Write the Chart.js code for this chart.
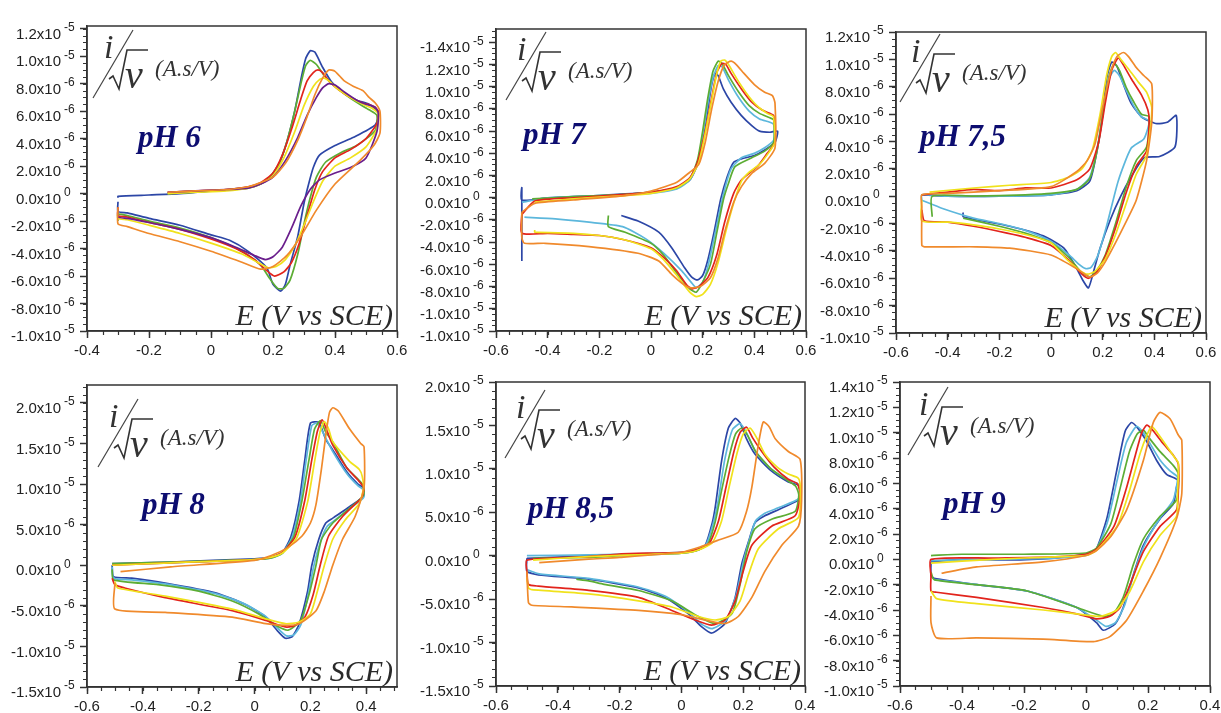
<!DOCTYPE html>
<html><head><meta charset="utf-8">
<script src="https://cdn.jsdelivr.net/npm/chart.js@4"></script>
<style>
html,body{margin:0;padding:0;background:#fff;}
body{width:1221px;height:713px;position:relative;overflow:hidden;}
canvas{position:absolute;}
</style></head><body>
<canvas id="c1"></canvas><canvas id="c2"></canvas><canvas id="c3"></canvas>
<canvas id="c4"></canvas><canvas id="c5"></canvas><canvas id="c6"></canvas>
<script>
// ---------- tick values and labels (x in V vs SCE, y in units of 1e-6 A.s/V) ----------
const xTicksA = [-0.4,-0.2,0,0.2,0.4,0.6];
const xLabelsA = ['-0.4','-0.2','0','0.2','0.4','0.6'];
const xTicksB = [-0.6,-0.4,-0.2,0,0.2,0.4,0.6];
const xLabelsB = ['-0.6','-0.4','-0.2','0','0.2','0.4','0.6'];
const xTicksC = [-0.6,-0.4,-0.2,0,0.2,0.4];
const xLabelsC = ['-0.6','-0.4','-0.2','0','0.2','0.4'];

const yTicks12 = [-10,-8,-6,-4,-2,0,2,4,6,8,10,12];
const yBase12 = ['-1.0x10','-8.0x10','-6.0x10','-4.0x10','-2.0x10','0.0x10','2.0x10','4.0x10','6.0x10','8.0x10','1.0x10','1.2x10'];
const yExp12 = ['-5','-6','-6','-6','-6','0','-6','-6','-6','-6','-5','-5'];
const yTicksPh7 = [-12,-10,-8,-6,-4,-2,0,2,4,6,8,10,12,14];
const yBasePh7 = ['-1.0x10','-1.0x10','-8.0x10','-6.0x10','-4.0x10','-2.0x10','0.0x10','2.0x10','4.0x10','6.0x10','8.0x10','1.0x10','1.2x10','-1.4x10'];
const yExpPh7 = ['-5','-5','-6','-6','-6','-6','0','-6','-6','-6','-6','-5','-5','-5'];
const yTicks20 = [-15,-10,-5,0,5,10,15,20];
const yBase20 = ['-1.5x10','-1.0x10','-5.0x10','0.0x10','5.0x10','1.0x10','1.5x10','2.0x10'];
const yExp20 = ['-5','-5','-6','0','-6','-5','-5','-5'];
const yTicks14 = [-10,-8,-6,-4,-2,0,2,4,6,8,10,12,14];
const yBase14 = ['-1.0x10','-8.0x10','-6.0x10','-4.0x10','-2.0x10','0.0x10','2.0x10','4.0x10','6.0x10','8.0x10','1.0x10','1.2x10','1.4x10'];
const yExp14 = ['-5','-6','-6','-6','-6','0','-6','-6','-6','-6','-5','-5','-5'];

const phLabels = ['pH 6','pH 7','pH 7,5','pH 8','pH 8,5','pH 9'];

// ---------- pH 6 ----------
const ph6Blue = [[-0.30,-0.3],[-0.30,-0.2],[-0.2,-0.1],[-0.1,0.0],[0.0,0.2],[0.1,0.4],[0.16,0.7],[0.19,1.2],[0.22,2.2],[0.245,3.8],[0.27,6.0],[0.29,8.3],[0.305,9.8],[0.32,10.4],[0.335,10.3],[0.36,9.2],[0.39,8.1],[0.43,7.3],[0.47,6.8],[0.51,6.5],[0.54,5.9],[0.53,5.0],[0.46,4.1],[0.40,3.5],[0.35,2.8],[0.33,1.9],[0.315,0.7],[0.30,-0.7],[0.28,-3.1],[0.255,-5.2],[0.24,-6.6],[0.225,-7.1],[0.2,-6.6],[0.18,-5.4],[0.12,-4.2],[0.06,-3.4],[0.0,-3.0],[-0.1,-2.3],[-0.2,-1.8],[-0.27,-1.4],[-0.30,-1.3],[-0.30,-0.6]];
const ph6Green = [[-0.14,0.0],[-0.05,0.1],[0.05,0.25],[0.12,0.4],[0.16,0.7],[0.19,1.2],[0.22,2.2],[0.245,3.8],[0.27,6.0],[0.29,8.0],[0.305,9.3],[0.32,9.7],[0.34,9.4],[0.365,8.6],[0.40,7.8],[0.44,7.1],[0.48,6.5],[0.51,6.1],[0.535,5.7],[0.53,4.6],[0.47,3.5],[0.42,3.0],[0.37,2.3],[0.34,1.2],[0.32,-0.3],[0.30,-2.2],[0.28,-4.4],[0.255,-6.3],[0.235,-6.9],[0.215,-6.9],[0.19,-6.2],[0.16,-5.2],[0.1,-4.2],[0.0,-3.2],[-0.1,-2.5],[-0.2,-2.0],[-0.27,-1.6],[-0.30,-1.5],[-0.30,-2.0]];
const ph6Red = [[-0.14,0.1],[-0.05,0.2],[0.05,0.3],[0.12,0.5],[0.16,0.8],[0.2,1.5],[0.23,2.8],[0.26,4.7],[0.29,6.9],[0.31,8.2],[0.33,8.8],[0.345,9.0],[0.36,8.8],[0.38,8.2],[0.41,7.6],[0.45,7.0],[0.49,6.6],[0.52,6.4],[0.54,6.0],[0.535,5.1],[0.50,4.0],[0.45,3.2],[0.40,2.6],[0.36,1.6],[0.335,0.3],[0.31,-1.6],[0.285,-3.6],[0.26,-5.0],[0.235,-5.7],[0.205,-6.0],[0.18,-5.6],[0.14,-4.8],[0.08,-4.0],[0.0,-3.3],[-0.1,-2.6],[-0.2,-2.1],[-0.27,-1.7],[-0.30,-1.6],[-0.30,-1.0]];
const ph6Yellow = [[-0.14,0.0],[-0.05,0.1],[0.05,0.2],[0.12,0.4],[0.16,0.7],[0.2,1.3],[0.235,2.6],[0.27,4.5],[0.30,6.4],[0.33,7.8],[0.35,8.3],[0.365,8.4],[0.38,8.2],[0.41,7.6],[0.45,7.0],[0.49,6.5],[0.52,6.2],[0.54,5.8],[0.535,4.7],[0.50,3.4],[0.45,2.6],[0.40,2.0],[0.36,0.9],[0.33,-0.6],[0.30,-2.3],[0.27,-3.8],[0.24,-4.8],[0.21,-5.3],[0.185,-5.4],[0.15,-5.0],[0.1,-4.4],[0.0,-3.6],[-0.1,-2.9],[-0.2,-2.3],[-0.27,-1.9],[-0.30,-1.8],[-0.30,-1.2]];
const ph6Purple = [[-0.14,0.1],[-0.05,0.2],[0.05,0.3],[0.12,0.4],[0.16,0.7],[0.2,1.2],[0.24,2.4],[0.28,4.1],[0.31,5.7],[0.34,7.0],[0.36,7.7],[0.38,8.0],[0.40,7.9],[0.43,7.4],[0.47,6.8],[0.50,6.5],[0.53,6.3],[0.54,5.8],[0.535,4.5],[0.50,2.6],[0.45,1.9],[0.40,1.5],[0.35,1.0],[0.32,0.3],[0.29,-0.9],[0.26,-2.5],[0.23,-3.9],[0.2,-4.6],[0.175,-4.8],[0.14,-4.5],[0.08,-3.9],[0.0,-3.2],[-0.1,-2.6],[-0.2,-2.1],[-0.27,-1.8],[-0.30,-1.7],[-0.30,-1.1]];
const ph6Orange = [[-0.14,0.1],[-0.05,0.2],[0.05,0.3],[0.12,0.5],[0.16,0.8],[0.2,1.2],[0.24,2.2],[0.28,3.9],[0.31,5.6],[0.335,7.2],[0.36,8.4],[0.38,9.0],[0.40,8.9],[0.43,8.2],[0.46,7.8],[0.49,7.5],[0.51,7.0],[0.53,6.6],[0.545,6.0],[0.545,4.4],[0.525,3.5],[0.48,2.4],[0.40,0.7],[0.34,-1.2],[0.29,-3.1],[0.245,-4.5],[0.2,-5.3],[0.16,-5.5],[0.1,-5.0],[0.0,-4.2],[-0.1,-3.5],[-0.2,-2.9],[-0.27,-2.4],[-0.30,-2.2],[-0.30,-1.0]];

// ---------- pH 7 ----------
const ph7Blue = [[-0.5,-5.7],[-0.5,0.9],[-0.5,-0.2],[-0.4,0.0],[-0.2,0.2],[0.0,0.5],[0.1,0.9],[0.15,1.6],[0.18,3.0],[0.2,5.2],[0.22,8.0],[0.235,10.2],[0.248,11.2],[0.26,11.0],[0.28,9.8],[0.31,8.6],[0.35,7.4],[0.39,6.5],[0.42,6.0],[0.46,5.9],[0.49,6.0],[0.48,5.0],[0.44,4.3],[0.40,3.8],[0.35,3.5],[0.32,3.2],[0.295,1.9],[0.27,-0.1],[0.245,-3.0],[0.22,-5.6],[0.2,-7.0],[0.18,-7.4],[0.16,-7.2],[0.13,-6.3],[0.08,-4.5],[0.03,-3.1],[-0.05,-2.1],[-0.115,-1.6]];
const ph7Cyan = [[-0.5,-0.4],[-0.4,0.0],[-0.2,0.2],[0.0,0.4],[0.1,0.8],[0.15,1.6],[0.18,3.2],[0.2,5.5],[0.22,8.5],[0.24,10.8],[0.26,11.9],[0.275,11.8],[0.3,10.6],[0.34,9.0],[0.38,7.8],[0.42,7.1],[0.46,6.8],[0.475,6.6],[0.475,5.2],[0.44,4.5],[0.40,4.0],[0.35,3.6],[0.31,2.6],[0.28,0.3],[0.25,-3.0],[0.22,-6.2],[0.2,-7.6],[0.175,-8.1],[0.155,-7.6],[0.12,-6.6],[0.05,-5.0],[-0.02,-3.7],[-0.11,-2.6],[-0.24,-2.2],[-0.37,-1.9],[-0.49,-1.75]];
const ph7Green = [[-0.46,-0.1],[-0.3,0.1],[-0.1,0.3],[0.0,0.5],[0.1,0.9],[0.15,1.7],[0.18,3.4],[0.2,6.0],[0.22,9.0],[0.24,11.4],[0.26,12.3],[0.275,12.1],[0.3,11.0],[0.34,9.5],[0.38,8.3],[0.42,7.6],[0.46,7.2],[0.475,7.0],[0.475,5.0],[0.44,4.2],[0.39,3.6],[0.325,2.8],[0.30,1.3],[0.28,-0.2],[0.255,-3.1],[0.23,-6.0],[0.2,-7.6],[0.175,-8.5],[0.15,-8.2],[0.1,-6.8],[0.05,-5.2],[0.0,-4.1],[-0.1,-3.1],[-0.165,-2.6],[-0.165,-1.6]];
const ph7Red = [[-0.5,-1.5],[-0.45,-0.3],[-0.3,0.0],[-0.1,0.3],[0.0,0.5],[0.1,1.0],[0.15,1.8],[0.18,3.2],[0.21,6.0],[0.235,9.0],[0.255,11.3],[0.275,12.1],[0.29,12.0],[0.31,11.2],[0.35,9.8],[0.39,8.6],[0.43,7.9],[0.46,7.6],[0.475,7.4],[0.48,5.0],[0.45,4.0],[0.415,2.9],[0.35,1.6],[0.32,0.4],[0.285,-2.2],[0.255,-5.1],[0.22,-7.2],[0.185,-8.0],[0.16,-8.2],[0.14,-7.9],[0.1,-6.6],[0.05,-5.4],[0.0,-4.5],[-0.1,-3.8],[-0.2,-3.4],[-0.3,-3.3],[-0.4,-3.2],[-0.5,-3.2],[-0.5,-1.5]];
const ph7Yellow = [[-0.45,-0.4],[-0.3,-0.1],[-0.1,0.2],[0.0,0.4],[0.1,0.9],[0.15,1.7],[0.185,3.2],[0.21,5.8],[0.235,8.8],[0.255,11.2],[0.27,12.3],[0.285,12.4],[0.30,12.0],[0.33,10.8],[0.37,9.4],[0.41,8.3],[0.45,7.6],[0.47,7.4],[0.475,7.2],[0.48,5.0],[0.46,4.2],[0.42,3.0],[0.38,2.3],[0.35,1.5],[0.32,-0.5],[0.29,-3.0],[0.26,-5.8],[0.23,-7.8],[0.2,-8.7],[0.175,-8.9],[0.15,-8.5],[0.1,-7.0],[0.05,-5.6],[0.0,-4.6],[-0.1,-3.8],[-0.2,-3.4],[-0.3,-3.2],[-0.45,-3.1],[-0.45,-2.9]];
const ph7Orange = [[-0.5,-1.3],[-0.45,-0.5],[-0.3,-0.2],[-0.1,0.2],[0.0,0.6],[0.1,1.4],[0.15,2.3],[0.185,3.0],[0.21,5.0],[0.235,8.0],[0.26,10.5],[0.285,12.0],[0.31,12.3],[0.33,12.0],[0.36,11.2],[0.40,10.2],[0.44,9.5],[0.47,9.2],[0.48,8.5],[0.48,4.5],[0.44,3.1],[0.39,2.2],[0.35,1.0],[0.32,-0.4],[0.285,-3.1],[0.26,-5.4],[0.23,-7.2],[0.19,-8.0],[0.15,-8.1],[0.12,-7.7],[0.08,-6.9],[0.03,-5.7],[-0.05,-5.0],[-0.24,-4.4],[-0.41,-4.1],[-0.49,-4.1],[-0.5,-3.6],[-0.5,-1.3]];

// ---------- pH 7,5 ----------
const ph75Blue = [[-0.5,0.1],[-0.4,0.0],[-0.2,0.0],[0.0,0.1],[0.1,0.4],[0.15,1.1],[0.175,3.0],[0.2,5.9],[0.215,8.6],[0.235,9.8],[0.255,9.5],[0.28,8.2],[0.31,6.8],[0.35,5.8],[0.38,5.5],[0.41,5.3],[0.45,5.4],[0.485,5.9],[0.48,3.6],[0.42,2.9],[0.36,2.8],[0.31,1.4],[0.27,0.0],[0.23,-1.7],[0.19,-3.8],[0.165,-5.5],[0.145,-6.7],[0.125,-6.2],[0.1,-5.3],[0.05,-3.8],[-0.03,-2.9],[-0.16,-2.2],[-0.34,-1.5],[-0.34,-1.2]];
const ph75Cyan = [[-0.5,-0.3],[-0.5,0.1],[-0.4,0.0],[-0.2,0.0],[0.0,0.1],[0.1,0.5],[0.15,1.4],[0.18,3.6],[0.205,6.5],[0.225,8.6],[0.245,9.2],[0.265,8.8],[0.29,7.8],[0.32,6.6],[0.35,5.8],[0.38,5.5],[0.36,4.2],[0.31,3.5],[0.26,1.1],[0.215,-2.2],[0.18,-4.4],[0.155,-5.2],[0.135,-5.3],[0.11,-5.0],[0.07,-4.3],[0.0,-3.3],[-0.1,-2.5],[-0.2,-2.0],[-0.3,-1.6],[-0.42,-0.9],[-0.5,-0.3]];
const ph75Green = [[-0.46,-1.5],[-0.46,0.0],[-0.3,0.0],[-0.1,0.1],[0.0,0.2],[0.1,0.5],[0.15,1.3],[0.18,3.5],[0.205,6.6],[0.225,8.8],[0.245,9.7],[0.265,9.2],[0.29,8.0],[0.32,6.9],[0.35,6.0],[0.38,5.8],[0.37,3.6],[0.33,2.6],[0.29,0.6],[0.25,-2.0],[0.21,-4.3],[0.175,-5.5],[0.15,-5.9],[0.12,-5.6],[0.07,-4.5],[0.0,-3.4],[-0.1,-2.7],[-0.2,-2.2],[-0.34,-1.6]];
const ph75Red = [[-0.5,0.1],[-0.4,0.3],[-0.3,0.5],[-0.2,0.4],[-0.1,0.6],[0.0,0.6],[0.1,1.2],[0.15,2.0],[0.185,4.0],[0.21,6.8],[0.235,9.2],[0.26,10.1],[0.28,9.6],[0.31,8.6],[0.35,7.4],[0.375,6.3],[0.38,5.5],[0.37,3.3],[0.33,2.2],[0.29,0.2],[0.25,-2.3],[0.21,-4.4],[0.175,-5.6],[0.145,-6.0],[0.12,-5.7],[0.07,-4.7],[0.0,-3.6],[-0.1,-3.0],[-0.17,-2.7],[-0.3,-2.2],[-0.4,-1.9],[-0.49,-1.8],[-0.5,-1.0]];
const ph75Yellow = [[-0.47,0.3],[-0.3,0.6],[-0.16,0.8],[0.0,1.0],[0.07,1.4],[0.12,2.0],[0.16,3.4],[0.19,6.0],[0.215,8.8],[0.235,10.2],[0.25,10.5],[0.27,10.0],[0.3,9.3],[0.34,8.3],[0.37,7.6],[0.39,6.5],[0.385,5.0],[0.37,3.0],[0.33,1.6],[0.29,-0.6],[0.25,-2.8],[0.21,-4.6],[0.17,-5.5],[0.14,-5.7],[0.11,-5.4],[0.06,-4.6],[0.0,-3.4],[-0.1,-2.8],[-0.2,-2.4],[-0.3,-2.1],[-0.39,-1.9],[-0.5,-1.8],[-0.5,-0.3]];
const ph75Orange = [[-0.5,-0.8],[-0.5,0.1],[-0.4,0.2],[-0.2,0.4],[0.0,0.7],[0.1,1.8],[0.14,2.6],[0.17,3.8],[0.2,6.5],[0.23,9.0],[0.255,10.2],[0.28,10.5],[0.3,10.2],[0.33,9.4],[0.36,8.8],[0.39,8.2],[0.39,5.4],[0.37,2.6],[0.33,-0.3],[0.29,-1.9],[0.25,-3.4],[0.21,-4.8],[0.18,-5.6],[0.15,-5.9],[0.1,-5.3],[0.0,-4.3],[-0.16,-3.8],[-0.29,-3.7],[-0.49,-3.7],[-0.5,-3.6],[-0.5,-0.8]];

// ---------- pH 8 ----------
const ph8Blue = [[-0.51,0.2],[-0.3,0.4],[0.0,0.8],[0.06,1.0],[0.1,1.6],[0.13,3.5],[0.16,8.0],[0.18,13.0],[0.2,17.5],[0.23,17.6],[0.255,15.5],[0.28,14.2],[0.33,11.5],[0.37,10.0],[0.39,9.5],[0.39,8.5],[0.34,7.2],[0.28,5.8],[0.255,5.2],[0.23,3.2],[0.205,0.0],[0.19,-3.2],[0.16,-7.2],[0.135,-8.8],[0.11,-9.0],[0.085,-8.2],[0.04,-6.4],[-0.035,-4.8],[-0.14,-3.4],[-0.32,-2.2],[-0.44,-1.6],[-0.505,-1.4],[-0.51,0.0]];
const ph8Cyan = [[-0.51,0.1],[-0.3,0.3],[0.0,0.7],[0.06,0.9],[0.1,1.5],[0.135,3.5],[0.165,8.0],[0.185,13.0],[0.205,17.2],[0.225,17.5],[0.25,16.0],[0.28,14.0],[0.33,11.3],[0.37,9.8],[0.39,9.3],[0.39,8.3],[0.34,7.0],[0.29,5.6],[0.26,4.8],[0.235,2.8],[0.21,-0.4],[0.19,-4.0],[0.165,-7.4],[0.14,-8.6],[0.115,-8.7],[0.09,-8.0],[0.04,-6.3],[-0.04,-4.7],[-0.14,-3.5],[-0.32,-2.3],[-0.44,-1.8],[-0.505,-1.6],[-0.51,-0.2]];
const ph8Green = [[-0.51,0.2],[-0.3,0.4],[0.0,0.7],[0.06,0.9],[0.1,1.5],[0.14,3.5],[0.17,8.0],[0.195,13.0],[0.215,16.8],[0.236,17.8],[0.255,16.4],[0.28,15.2],[0.33,12.0],[0.37,10.6],[0.39,9.8],[0.39,8.6],[0.34,7.0],[0.28,5.2],[0.24,3.2],[0.22,0.0],[0.195,-3.6],[0.165,-6.8],[0.12,-8.0],[0.075,-7.4],[0.015,-6.0],[-0.08,-4.4],[-0.2,-3.2],[-0.345,-2.4],[-0.505,-1.8],[-0.51,-0.5]];
const ph8Red = [[-0.51,0.0],[-0.3,0.3],[0.0,0.7],[0.06,1.0],[0.1,1.6],[0.145,3.5],[0.18,8.0],[0.205,13.0],[0.225,16.5],[0.242,17.9],[0.26,16.5],[0.28,14.8],[0.33,12.0],[0.37,10.5],[0.39,9.6],[0.385,8.4],[0.375,8.0],[0.315,6.0],[0.265,3.6],[0.235,0.0],[0.21,-3.6],[0.18,-6.4],[0.14,-7.5],[0.11,-7.6],[0.04,-6.8],[-0.08,-5.6],[-0.32,-4.0],[-0.465,-2.8],[-0.5,-2.4],[-0.51,-1.6]];
const ph8Yellow = [[-0.51,0.0],[-0.3,0.3],[0.0,0.7],[0.06,1.0],[0.1,1.5],[0.15,3.3],[0.19,7.8],[0.215,12.8],[0.235,16.5],[0.25,17.7],[0.265,16.8],[0.28,15.2],[0.34,12.8],[0.375,11.8],[0.385,11.0],[0.39,9.5],[0.375,7.6],[0.325,5.6],[0.28,3.2],[0.25,0.0],[0.225,-3.2],[0.2,-6.0],[0.16,-7.0],[0.11,-7.2],[0.04,-6.6],[-0.08,-5.4],[-0.32,-3.8],[-0.49,-2.8],[-0.5,-2.0]];
const ph8Orange = [[-0.48,-0.8],[-0.3,-0.2],[0.0,0.6],[0.06,1.2],[0.12,2.2],[0.17,3.6],[0.2,5.2],[0.22,7.5],[0.24,12.0],[0.255,16.0],[0.268,18.8],[0.28,19.4],[0.3,19.0],[0.34,16.8],[0.38,15.0],[0.392,14.6],[0.392,9.6],[0.36,6.0],[0.315,3.2],[0.28,0.0],[0.25,-3.2],[0.22,-5.6],[0.16,-7.2],[0.11,-7.4],[0.04,-7.2],[-0.08,-6.4],[-0.32,-5.8],[-0.5,-5.4],[-0.5,-2.2]];

// ---------- pH 8,5 ----------
const ph85Blue = [[-0.5,-0.3],[-0.3,0.0],[0.0,0.3],[0.05,0.6],[0.077,1.2],[0.1,3.8],[0.11,5.7],[0.13,10.9],[0.152,14.7],[0.174,15.8],[0.19,15.3],[0.21,13.5],[0.238,11.7],[0.29,9.8],[0.346,8.5],[0.379,8.1],[0.385,7.0],[0.379,6.4],[0.314,5.3],[0.27,4.6],[0.238,3.8],[0.217,1.6],[0.195,-1.0],[0.174,-4.8],[0.141,-7.8],[0.098,-8.9],[0.066,-8.2],[0.023,-6.7],[-0.053,-4.8],[-0.139,-3.7],[-0.30,-2.7],[-0.463,-2.2],[-0.5,-1.8],[-0.5,-0.3]];
const ph85Cyan = [[-0.5,0.0],[-0.3,0.1],[0.0,0.4],[0.05,0.7],[0.08,1.3],[0.105,4.0],[0.12,6.5],[0.14,11.0],[0.165,14.5],[0.19,15.2],[0.21,14.2],[0.24,12.0],[0.29,10.0],[0.346,8.7],[0.379,8.2],[0.38,6.6],[0.32,5.6],[0.27,4.9],[0.24,4.0],[0.22,1.8],[0.2,-0.8],[0.178,-4.5],[0.145,-7.4],[0.1,-8.4],[0.066,-7.9],[0.023,-6.5],[-0.05,-4.7],[-0.14,-3.6],[-0.3,-2.6],[-0.46,-2.1],[-0.5,-1.6]];
const ph85Green = [[-0.48,-0.3],[-0.3,-0.2],[-0.2,0.0],[0.0,0.3],[0.05,0.6],[0.085,1.3],[0.11,4.0],[0.13,7.5],[0.155,11.5],[0.175,14.0],[0.195,14.7],[0.215,13.8],[0.24,12.0],[0.29,10.0],[0.346,8.6],[0.37,8.0],[0.38,7.0],[0.368,5.1],[0.292,4.2],[0.238,3.1],[0.211,0.4],[0.19,-3.3],[0.163,-6.7],[0.109,-7.8],[0.055,-7.0],[-0.031,-5.2],[-0.139,-4.0],[-0.25,-3.3],[-0.3,-2.9],[-0.34,-2.7]];
const ph85Red = [[-0.5,-1.8],[-0.5,-0.5],[-0.3,-0.1],[-0.2,0.2],[0.0,0.4],[0.05,0.7],[0.09,1.4],[0.12,4.0],[0.145,8.0],[0.17,12.0],[0.19,14.2],[0.211,14.8],[0.23,13.6],[0.26,12.0],[0.3,10.2],[0.346,8.8],[0.375,8.3],[0.385,7.0],[0.368,4.6],[0.292,3.4],[0.228,1.2],[0.2,-1.8],[0.174,-5.2],[0.141,-7.4],[0.098,-8.0],[0.044,-7.4],[-0.031,-6.3],[-0.139,-4.8],[-0.30,-4.0],[-0.463,-3.5],[-0.495,-3.3],[-0.5,-1.8]];
const ph85Yellow = [[-0.48,-0.5],[-0.3,-0.1],[0.0,0.3],[0.05,0.6],[0.1,1.5],[0.13,4.0],[0.155,8.0],[0.18,11.8],[0.2,14.0],[0.222,14.7],[0.245,13.5],[0.27,11.7],[0.31,10.2],[0.346,9.4],[0.379,8.9],[0.385,7.5],[0.379,4.4],[0.314,3.1],[0.249,0.8],[0.217,-2.2],[0.19,-5.2],[0.152,-7.0],[0.109,-7.4],[0.055,-7.0],[-0.031,-5.9],[-0.139,-5.2],[-0.30,-4.4],[-0.484,-3.9],[-0.495,-3.7],[-0.5,-2.5]];
const ph85Orange = [[-0.46,-0.8],[-0.3,-0.4],[-0.2,-0.2],[0.0,0.4],[0.06,1.0],[0.12,1.8],[0.184,2.7],[0.21,5.0],[0.228,7.9],[0.249,12.8],[0.265,15.4],[0.285,14.8],[0.303,13.5],[0.346,12.0],[0.384,11.1],[0.389,6.4],[0.379,3.4],[0.325,1.2],[0.27,-1.8],[0.228,-4.8],[0.184,-7.0],[0.141,-7.8],[0.077,-7.4],[0.0,-6.8],[-0.139,-6.3],[-0.355,-5.9],[-0.484,-5.7],[-0.495,-5.4],[-0.5,-1.8]];

// ---------- pH 9 ----------
const ph9Blue = [[-0.5,-0.2],[-0.4,0.0],[-0.245,-0.05],[-0.1,0.1],[-0.03,0.3],[0.013,0.5],[0.034,0.85],[0.067,3.2],[0.099,7.0],[0.126,10.1],[0.147,10.8],[0.169,10.3],[0.196,9.3],[0.228,7.8],[0.26,6.7],[0.287,6.4],[0.298,6.2],[0.292,5.7],[0.282,4.4],[0.239,3.2],[0.185,1.1],[0.153,-1.2],[0.12,-3.8],[0.094,-5.1],[0.056,-5.6],[0.034,-5.0],[-0.03,-3.8],[-0.19,-2.5],[-0.353,-2.0],[-0.49,-1.5],[-0.5,-1.3],[-0.5,-0.2]];
const ph9Cyan = [[-0.5,-0.1],[-0.3,0.0],[-0.1,0.1],[0.0,0.3],[0.034,0.8],[0.07,3.0],[0.1,6.2],[0.13,9.2],[0.163,10.5],[0.185,10.0],[0.21,9.0],[0.24,7.8],[0.27,7.0],[0.295,6.5],[0.29,5.5],[0.28,4.6],[0.24,3.3],[0.19,1.2],[0.155,-1.1],[0.125,-3.6],[0.095,-5.0],[0.065,-5.3],[0.04,-4.9],[-0.03,-3.8],[-0.19,-2.5],[-0.35,-2.0],[-0.49,-1.6]];
const ph9Green = [[-0.5,0.3],[-0.4,0.4],[-0.2,0.4],[0.0,0.5],[0.034,0.9],[0.08,2.8],[0.11,5.6],[0.14,8.5],[0.165,9.9],[0.185,10.2],[0.2,9.7],[0.239,8.5],[0.282,7.4],[0.298,6.7],[0.292,4.7],[0.239,3.4],[0.185,1.6],[0.153,-0.4],[0.12,-3.0],[0.088,-4.3],[0.056,-4.5],[-0.03,-3.8],[-0.19,-2.5],[-0.353,-2.0],[-0.49,-1.6],[-0.5,-1.0]];
const ph9Red = [[-0.5,-1.3],[-0.5,0.0],[-0.3,0.1],[-0.1,0.2],[0.0,0.4],[0.034,0.8],[0.09,2.6],[0.13,5.6],[0.16,8.3],[0.18,10.0],[0.196,10.6],[0.215,10.2],[0.25,9.1],[0.282,8.2],[0.298,7.5],[0.298,5.6],[0.292,3.9],[0.239,2.6],[0.185,0.6],[0.142,-2.0],[0.11,-3.8],[0.077,-4.5],[0.034,-4.7],[-0.03,-4.3],[-0.138,-3.8],[-0.353,-3.0],[-0.482,-2.6],[-0.5,-2.5],[-0.5,-1.3]];
const ph9Yellow = [[-0.5,-0.3],[-0.3,0.0],[-0.1,0.2],[0.0,0.3],[0.034,0.7],[0.1,2.6],[0.14,5.4],[0.175,8.4],[0.2,10.0],[0.212,10.5],[0.23,10.0],[0.25,9.3],[0.287,8.0],[0.298,7.6],[0.295,5.0],[0.292,3.4],[0.239,1.9],[0.185,-0.2],[0.142,-2.5],[0.099,-4.0],[0.045,-4.5],[-0.03,-4.3],[-0.138,-4.0],[-0.353,-3.5],[-0.482,-3.1],[-0.5,-2.5]];
const ph9Orange = [[-0.466,-1.1],[-0.353,-0.6],[-0.138,-0.2],[0.0,0.3],[0.034,0.7],[0.08,1.8],[0.131,3.9],[0.185,7.8],[0.217,10.8],[0.239,11.6],[0.271,11.1],[0.298,9.8],[0.309,9.4],[0.309,5.2],[0.292,3.2],[0.239,0.1],[0.185,-2.5],[0.131,-4.8],[0.077,-6.1],[0.024,-6.5],[-0.138,-6.3],[-0.353,-6.2],[-0.482,-6.2],[-0.5,-5.0],[-0.5,-2.9]];

// ---------- styles ----------
const COLORS = {blue:'#2c46a6', cyan:'#5cb7dc', green:'#5cad34', yellow:'#f0e21c', red:'#e2241c', orange:'#f08a2c', purple:'#6a1e8c'};
const AXIS = '#333333';
const Y_W = 92, PAD_T = 20, PAD_R = 30;

const panels = [
  {id:'c1', ph:phLabels[0], area:{l:87,t:18,r:397,b:331}, xH:32, xr:[-0.4,0.6], yr:[-10,12.2], xT:xTicksA, xL:xLabelsA, yT:yTicks12, yB:yBase12, yE:yExp12, yMinor:0.5, sym:[18,10], phPos:[51,113], showE:true,
   series:[['orange',ph6Orange],['purple',ph6Purple],['yellow',ph6Yellow],['red',ph6Red],['green',ph6Green],['blue',ph6Blue]]},
  {id:'c2', ph:phLabels[1], area:{l:496,t:21,r:806,b:331}, xH:32, xr:[-0.6,0.6], yr:[-12,15.2], xT:xTicksB, xL:xLabelsB, yT:yTicksPh7, yB:yBasePh7, yE:yExpPh7, yMinor:0.5, sym:[22,9], phPos:[27,107], showE:true,
   series:[['orange',ph7Orange],['yellow',ph7Yellow],['red',ph7Red],['green',ph7Green],['cyan',ph7Cyan],['blue',ph7Blue]]},
  {id:'c3', ph:phLabels[2], area:{l:896,t:24,r:1206,b:333}, xH:30, xr:[-0.6,0.6], yr:[-10,12], xT:xTicksB, xL:xLabelsB, yT:yTicks12, yB:yBase12, yE:yExp12, yMinor:0.5, sym:[16,8], phPos:[24,106], showE:true,
   series:[['orange',ph75Orange],['yellow',ph75Yellow],['red',ph75Red],['green',ph75Green],['cyan',ph75Cyan],['blue',ph75Blue]]},
  {id:'c4', ph:phLabels[3], area:{l:87,t:377,r:397,b:687}, xH:28, xr:[-0.6,0.51], yr:[-15,22.2], xT:xTicksC, xL:xLabelsC, yT:yTicks20, yB:yBase20, yE:yExp20, yMinor:1, sym:[23,20], phPos:[55,121], showE:true,
   series:[['orange',ph8Orange],['yellow',ph8Yellow],['red',ph8Red],['green',ph8Green],['cyan',ph8Cyan],['blue',ph8Blue]]},
  {id:'c5', ph:phLabels[4], area:{l:496,t:374,r:805,b:686}, xH:28, xr:[-0.6,0.4], yr:[-15,20], xT:xTicksC, xL:xLabelsC, yT:yTicks20, yB:yBase20, yE:yExp20, yMinor:1, sym:[21,14], phPos:[32,128], showE:true,
   series:[['orange',ph85Orange],['yellow',ph85Yellow],['red',ph85Red],['green',ph85Green],['cyan',ph85Cyan],['blue',ph85Blue]]},
  {id:'c6', ph:phLabels[5], area:{l:900,t:374,r:1210,b:686}, xH:28, xr:[-0.6,0.4], yr:[-10,14], xT:xTicksC, xL:xLabelsC, yT:yTicks14, yB:yBase14, yE:yExp14, yMinor:0.5, sym:[20,11], phPos:[43,123], showE:false,
   series:[['orange',ph9Orange],['yellow',ph9Yellow],['red',ph9Red],['green',ph9Green],['cyan',ph9Cyan],['blue',ph9Blue]]}
];

const SERIF = '"Liberation Serif", "Times New Roman", serif';
const SANS = '"Liberation Sans", Arial, sans-serif';

const cvDecor = {
  id:'cvDecor',
  afterDraw(chart, args, o){
    const {ctx, chartArea:a} = chart;
    const xs = chart.scales.x, ys = chart.scales.y;
    ctx.save();
    // minor ticks
    ctx.strokeStyle = AXIS; ctx.lineWidth = 1.2;
    ctx.beginPath();
    const xs0 = Math.ceil(xs.min/o.xMinor - 1e-6);
    for (let k = xs0; k*o.xMinor <= xs.max + 1e-6; k++) {
      const px = Math.round(xs.getPixelForValue(k*o.xMinor)) + 0.5;
      ctx.moveTo(px, a.bottom); ctx.lineTo(px, a.bottom + 4);
    }
    const ys0 = Math.ceil(ys.min/o.yMinor - 1e-6);
    for (let k = ys0; k*o.yMinor <= ys.max + 1e-6; k++) {
      const py = Math.round(ys.getPixelForValue(k*o.yMinor)) + 0.5;
      ctx.moveTo(a.left, py); ctx.lineTo(a.left - 4, py);
    }
    ctx.stroke();
    // exponents of the y tick labels
    ctx.fillStyle = '#222'; ctx.textAlign = 'left'; ctx.textBaseline = 'middle';
    ctx.font = '12px ' + SANS;
    o.yT.forEach((v, i) => {
      ctx.fillText(o.yE[i], a.left - 23, ys.getPixelForValue(v) - 1);
    });
    // frame
    ctx.lineWidth = 1.5; ctx.strokeStyle = AXIS;
    ctx.strokeRect(a.left, a.top, a.right - a.left, a.bottom - a.top);
    // i / sqrt(v) (A.s/V)
    const ax = a.left + o.sym[0], ay = a.top + o.sym[1];
    ctx.strokeStyle = '#444'; ctx.lineWidth = 1.2;
    ctx.beginPath(); ctx.moveTo(ax - 12, ay + 62); ctx.lineTo(ax + 28, ay - 6); ctx.stroke();
    ctx.fillStyle = '#333';
    ctx.textBaseline = 'alphabetic'; ctx.textAlign = 'left';
    ctx.font = 'italic 34px ' + SERIF;
    ctx.fillText('i', ax - 1, ay + 22);
    ctx.lineWidth = 1.6; ctx.strokeStyle = '#333';
    ctx.beginPath();
    ctx.moveTo(ax + 4, ay + 43); ctx.lineTo(ax + 8, ay + 40); ctx.lineTo(ax + 14, ay + 53); ctx.lineTo(ax + 22, ay + 14); ctx.lineTo(ax + 43, ay + 14);
    ctx.stroke();
    ctx.font = 'italic 40px ' + SERIF;
    ctx.fillText('v', ax + 20, ay + 52);
    ctx.font = 'italic 23px ' + SERIF;
    ctx.fillText('(A.s/V)', ax + 50, ay + 40);
    // pH label
    ctx.fillStyle = '#0d0d70';
    ctx.textBaseline = 'middle';
    ctx.font = 'italic bold 31px ' + SERIF;
    ctx.fillText(o.ph, a.left + o.phPos[0], a.top + o.phPos[1]);
    // E label
    if (o.showE) {
      ctx.fillStyle = '#2a2a2a'; ctx.textAlign = 'right'; ctx.textBaseline = 'alphabetic';
      ctx.font = 'italic 30px ' + SERIF;
      ctx.fillText('E (V vs SCE)', a.right - 4, a.bottom - 6);
    }
    ctx.restore();
  }
};

panels.forEach(p => {
  const cv = document.getElementById(p.id);
  const W = Y_W + (p.area.r - p.area.l) + PAD_R;
  const H = PAD_T + (p.area.b - p.area.t) + p.xH;
  cv.width = W; cv.height = H;
  cv.style.left = (p.area.l - Y_W) + 'px';
  cv.style.top = (p.area.t - PAD_T) + 'px';
  new Chart(cv, {
    type: 'scatter',
    data: { datasets: p.series.map(([c, d]) => ({
      data: d.map(([x, y]) => ({x, y})),
      showLine: true, borderColor: COLORS[c], backgroundColor: COLORS[c],
      borderWidth: 1.7, pointRadius: 0, tension: 0.2, fill: false
    })) },
    options: {
      responsive: false, animation: false, devicePixelRatio: 1, events: [],
      layout: { padding: { left: 0, right: PAD_R, top: PAD_T, bottom: 0 } },
      plugins: { legend: { display: false }, tooltip: { enabled: false },
        cvDecor: { xMinor: 0.05, yMinor: p.yMinor, sym: p.sym, ph: p.ph, phPos: p.phPos, showE: p.showE, yT: p.yT, yE: p.yE } },
      scales: {
        x: { type: 'linear', position: 'bottom', min: p.xr[0], max: p.xr[1],
          afterBuildTicks: s => { s.ticks = p.xT.map(v => ({value: v})); },
          afterFit: s => { s.height = p.xH; },
          ticks: { autoSkip: false, maxRotation: 0, padding: 4, color: '#222',
            font: { family: SANS, size: 15 },
            callback: (v, i) => p.xL[i] },
          grid: { drawOnChartArea: false, tickLength: 7, tickColor: AXIS, tickWidth: 1.5 },
          border: { color: AXIS, width: 1.5 } },
        y: { type: 'linear', position: 'left', min: p.yr[0], max: p.yr[1],
          afterBuildTicks: s => { s.ticks = p.yT.map(v => ({value: v})); },
          afterFit: s => { s.width = Y_W; },
          ticks: { autoSkip: false, padding: 19, labelOffset: 6, color: '#222',
            font: { family: SANS, size: 15 },
            callback: (v, i) => p.yB[i] },
          grid: { drawOnChartArea: false, tickLength: 7, tickColor: AXIS, tickWidth: 1.5 },
          border: { color: AXIS, width: 1.5 } }
      }
    },
    plugins: [cvDecor]
  });
});
</script>
</body></html>
